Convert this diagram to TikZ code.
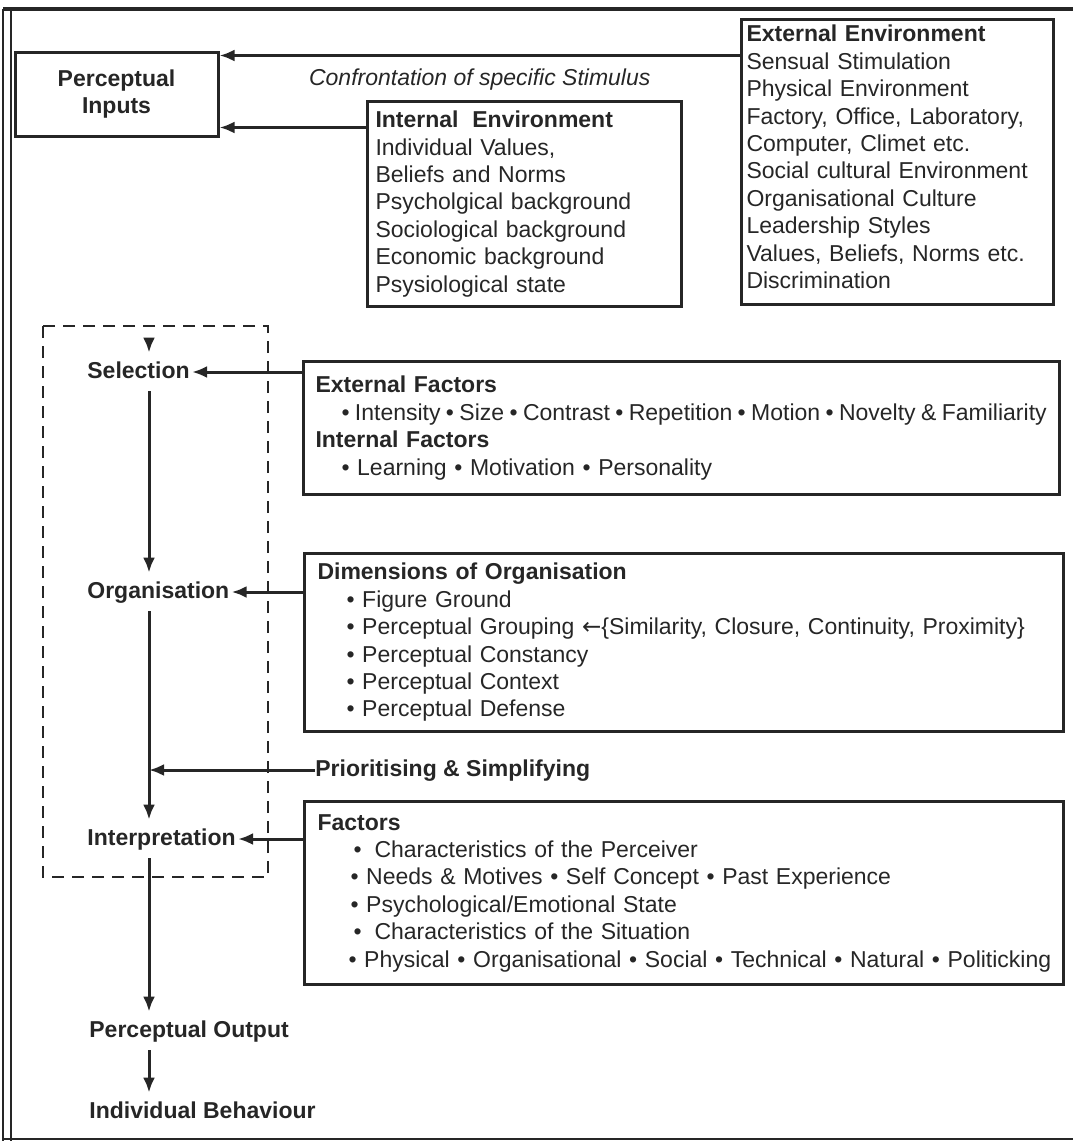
\documentclass[tikz,border=0pt]{standalone}
\usepackage{fontspec}
\setmainfont{Liberation Sans}
\newfontfamily\symfont{DejaVu Sans}
\usepackage{tikz}
\usetikzlibrary{arrows.meta}

\definecolor{ink}{gray}{0.15}
\newcommand\bodyfont{\fontsize{11.5}{13.7}\selectfont}
\newcommand\bul{\hspace{2.7pt}•\hspace{2.7pt}}

\begin{document}
\begin{tikzpicture}[x=0.5pt, y=-0.5pt, color=ink, >={Latex[length=7.5pt,width=6pt]}]
			\tikzset{block/.style={draw, rectangle, align=left, anchor=north west, line width=1.5pt, inner ysep=0pt, font=\bodyfont},
        stage/.style={anchor=base west, inner xsep=1pt, inner ysep=4pt, text height=8.5pt, text depth=2.5pt, font=\bodyfont\bfseries},
        link/.style={->, line width=1.5pt},
        frame/.style={line width=1.1pt, dash pattern=on 6pt off 4pt}
        }
			\useasboundingbox (0,0) rectangle (1073,1141);

			% page border
			\draw[line width=1.6pt] (3,9) -- (1073,9);
			\draw[line width=0.9pt] (3,9) -- (3,1141) (11,9) -- (11,1141);
			\draw[line width=0.9pt] (3,1139) -- (1073,1139);

			\node [block, anchor=center, align=center, minimum width=101.5pt, minimum height=42pt, font=\bodyfont\bfseries] (pin) at (116.5,94) {Perceptual\\Inputs};
			\node [block, text width=151pt, inner xsep=2.5pt, minimum height=142.5pt] (extenv) at (740,18) {\textbf{External Environment}\\Sensual Stimulation\\Physical Environment\\Factory, Office, Laboratory,\\Computer, Climet etc.\\Social cultural Environment\\Organisational Culture\\Leadership Styles\\Values, Beliefs, Norms etc.\\Discrimination\vspace{5pt}};
			\node [block, text width=149pt, inner xsep=4pt, minimum height=102.5pt] (intenv) at (366,100) {\textbf{Internal\hspace{0.6em}Environment}\\Individual Values,\\Beliefs and Norms\\Psycholgical background\\Sociological background\\Economic background\\Psysiological state};

			\node [block, text width=366pt, inner xsep=6pt, minimum height=66.5pt] (extf) at (302,360) {\textbf{External Factors}\\\hspace*{13pt}\mbox{•\hspace{2.7pt}Intensity\bul Size\bul Contrast\bul Repetition\bul Motion\bul Novelty\hspace{2.7pt}\&\hspace{2.7pt}Familiarity}\\\textbf{Internal Factors}\\\hspace*{13pt}• Learning • Motivation • Personality};
			\node [block, text width=366.5pt, inner xsep=6.5pt, minimum height=89pt] (dims) at (303,552) {\textbf{Dimensions of Organisation}\\\hspace*{14.5pt}• Figure Ground\\\hspace*{14.5pt}\mbox{• Perceptual Grouping {\symfont ←}\{Similarity, Closure, Continuity, Proximity\}}\\\hspace*{14.5pt}• Perceptual Constancy\\\hspace*{14.5pt}• Perceptual Context\\\hspace*{14.5pt}• Perceptual Defense};
			\node [block, text width=366.5pt, inner xsep=6.5pt, minimum height=91.5pt] (factors) at (303,800) {\textbf{Factors}\\\hspace*{18pt}•\hspace{6.5pt}Characteristics of the Perceiver\\\hspace*{16.5pt}• Needs \& Motives • Self Concept • Past Experience\\\hspace*{16.5pt}• Psychological/Emotional State\\\hspace*{18pt}•\hspace{6.5pt}Characteristics of the Situation\\\hspace*{15.5pt}\mbox{• Physical • Organisational • Social • Technical • Natural • Politicking}};

			\node [stage] (sel) at (85,378) {Selection};
			\node [stage] (org) at (85,598) {Organisation};
			\node [stage] (interp) at (85,845) {Interpretation};
			\node [stage] (pout) at (87,1037) {Perceptual Output};
			\node [stage] (behav) at (87,1118) {Individual Behaviour};
			\node [stage, inner xsep=0pt] (prio) at (315,776) {Prioritising \& Simplifying};

			\coordinate (col) at (149,0);
			\coordinate (feed) at (149,338);
			\coordinate (inA) at ([yshift=-2.5pt]pin.north east);
			\coordinate (inB) at ([yshift=5pt]pin.south east);

			\draw[frame] (43,326) rectangle (268,877);

			\draw[link] (inA -| extenv.west) -- node[below=2.5pt, font=\bodyfont\itshape] (stim) {Confrontation of specific Stimulus} (inA);
			\draw[link] (inB -| intenv.west) -- (inB);
			\draw[link] (feed) -- (sel.north -| col);
			\draw[link] (extf.west |- sel.east) -- (sel.east);
			\draw[link] (sel.south -| col) -- (org.north -| col);
			\draw[link] (dims.west |- org.east) -- (org.east);
			\draw[link] (org.south -| col) -- (interp.north -| col);
			\draw[link] (prio.west) -- (prio.west -| col);
			\draw[link] (factors.west |- interp.east) -- (interp.east);
			\draw[link] (interp.south -| col) -- (pout.north -| col);
			\draw[link] (pout.south -| col) -- (behav.north -| col);

		\end{tikzpicture}
\end{document}
